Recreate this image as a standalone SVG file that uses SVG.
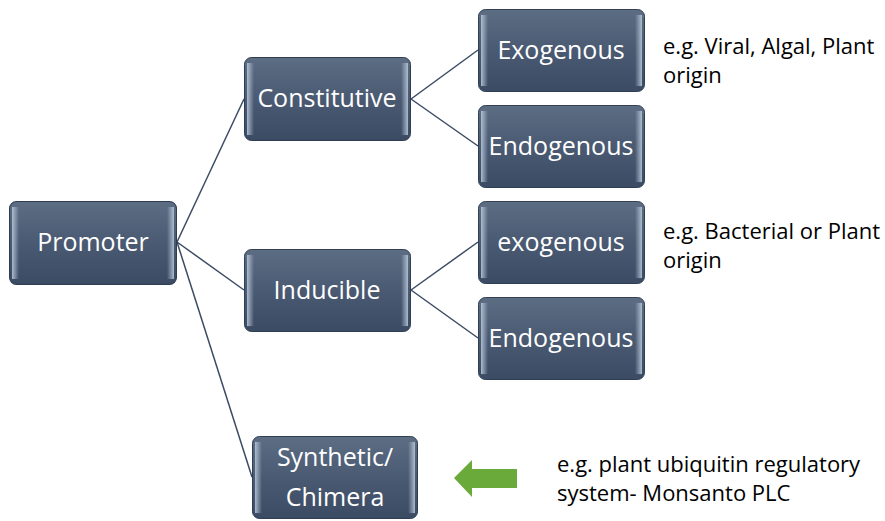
<svg xmlns="http://www.w3.org/2000/svg" width="885" height="521" viewBox="0 0 885 521">
<defs>
<linearGradient id="g" x1="0" y1="0" x2="0" y2="1">
<stop offset="0" stop-color="#5d6d84"/>
<stop offset="0.5" stop-color="#4a5a72"/>
<stop offset="1" stop-color="#3b4b63"/>
</linearGradient>
<linearGradient id="side" x1="0" y1="0" x2="1" y2="0">
<stop offset="0" stop-color="#b8c6d8" stop-opacity="0.9"/>
<stop offset="1" stop-color="#b8c6d8" stop-opacity="0"/>
</linearGradient>
<linearGradient id="sideR" x1="1" y1="0" x2="0" y2="0">
<stop offset="0" stop-color="#b8c6d8" stop-opacity="0.9"/>
<stop offset="1" stop-color="#b8c6d8" stop-opacity="0"/>
</linearGradient>
<symbol id="box" viewBox="0 0 167 84" preserveAspectRatio="none">
<rect x="0.5" y="0.5" width="166" height="83" rx="7" fill="url(#g)" stroke="#2f3d52" stroke-width="1"/>
<rect x="3" y="6" width="7" height="72" fill="url(#side)"/>
<rect x="157" y="6" width="7" height="72" fill="url(#sideR)"/>
</symbol>
</defs>
<style>
.t{font-family:"Open Sans","Noto Sans",sans-serif;font-size:25px;fill:#ffffff;text-anchor:middle}
.n{font-family:"Open Sans","Noto Sans",sans-serif;font-size:22px;fill:#000000}
.c{stroke:#3b4b63;stroke-width:1.5;fill:none}
</style>
<rect width="885" height="521" fill="#ffffff"/>
<g id="connectors">
<line class="c" x1="177" y1="242" x2="244" y2="99"/>
<line class="c" x1="177" y1="242" x2="244" y2="290"/>
<line class="c" x1="177" y1="242" x2="252" y2="477"/>
<line class="c" x1="411" y1="99" x2="478" y2="50"/>
<line class="c" x1="411" y1="99" x2="478" y2="146"/>
<line class="c" x1="411" y1="290" x2="478" y2="242"/>
<line class="c" x1="411" y1="290" x2="478" y2="338"/>
</g>
<g id="promoter"><use href="#box" x="9" y="201" width="168" height="84"/><text class="t" x="93" y="251">Promoter</text></g>
<g id="constitutive"><use href="#box" x="244" y="57" width="167" height="84"/><text class="t" x="327" y="107">Constitutive</text></g>
<g id="inducible"><use href="#box" x="244" y="249" width="167" height="83"/><text class="t" x="327" y="299">Inducible</text></g>
<g id="synthetic"><use href="#box" x="252" y="436" width="166" height="83"/><text class="t" x="335" y="466">Synthetic/</text><text class="t" x="335" y="506">Chimera</text></g>
<g id="exo1"><use href="#box" x="478" y="9" width="167" height="83"/><text class="t" x="561" y="59">Exogenous</text></g>
<g id="endo1"><use href="#box" x="478" y="105" width="167" height="83"/><text class="t" x="561" y="155">Endogenous</text></g>
<g id="exo2"><use href="#box" x="478" y="201" width="167" height="83"/><text class="t" x="561" y="251">exogenous</text></g>
<g id="endo2"><use href="#box" x="478" y="297" width="167" height="83"/><text class="t" x="561" y="347">Endogenous</text></g>
<g id="note1"><text class="n" x="663" y="54">e.g. Viral, Algal, Plant</text><text class="n" x="663" y="83">origin</text></g>
<g id="note2"><text class="n" x="663" y="239">e.g. Bacterial or Plant</text><text class="n" x="663" y="268">origin</text></g>
<g id="note3"><text class="n" x="557" y="472">e.g. plant ubiquitin regulatory</text><text class="n" x="557" y="501">system- Monsanto PLC</text></g>
<g id="arrow"><polygon points="454,478 472,460 472,469 517,469 517,488 472,488 472,497" fill="#6aaa3a"/></g>
</svg>
